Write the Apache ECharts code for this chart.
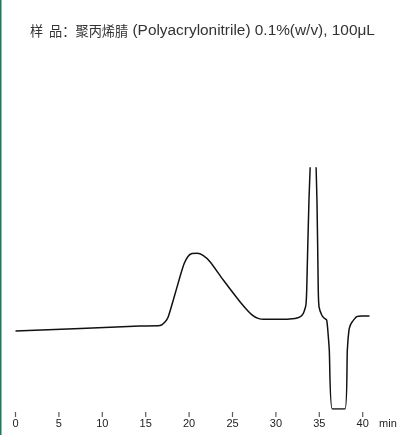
<!DOCTYPE html>
<html>
<head>
<meta charset="utf-8">
<script src="https://cdn.jsdelivr.net/npm/echarts@6/dist/echarts.min.js"></script>
<style>
html,body{margin:0;padding:0;background:#fff;}
#chart{width:402px;height:435px;}
</style>
</head>
<body>
<div id="chart"></div>
<script>
// Retention time (min) and detector response (arbitrary units)
var times = [0, 14.34, 16.65, 17.22, 17.60, 18.18, 18.95, 19.41, 19.87, 20.33, 20.94, 21.60, 22.41, 23.94, 25.86, 26.78, 27.40, 27.94, 28.55, 30.47, 32.20, 32.78, 33.16, 33.41, 33.48, 33.55, 33.81, 34.33, 34.73, 34.88, 34.97, 35.28, 35.54, 35.85, 36.04, 36.15, 36.50, 37.96, 38.23, 38.42, 38.59, 38.80, 39.31, 39.92, 40.78];
var signal = [32.4, 34.4, 34.6, 36.1, 38.3, 45.2, 54.9, 60.2, 63.3, 64.5, 64.6, 63.7, 61.1, 53.5, 44.5, 40.7, 38.6, 37.6, 37.2, 37.2, 37.6, 38.2, 39.7, 42.3, 43.9, 49.4, 86.7, 128.2, 86.7, 49.4, 42.4, 39.0, 37.8, 36.9, 30.0, 24.5, 0, 0, 24.5, 32.8, 34.9, 36.2, 38.3, 38.6, 38.6];
var tickValues = [0, 5, 10, 15, 20, 25, 30, 35, 40];
var titleCjk = '样  品：聚丙烯腈';
var titleLatin = ' (Polyacrylonitrile) 0.1%(w/v), 100μL';
var unitText = 'min';

var pxPerMin = 8.68;
var axisMax = 45;
var pts = times.map(function (t, i) { return [t, signal[i]]; });
var tickPts = tickValues.map(function (v) { return [v, 0.5]; });
var chart = echarts.init(document.getElementById('chart'), null, {renderer: 'canvas'});
chart.setOption({
  animation: false,
  backgroundColor: '#fff',
  title: {
    text: '{c|' + titleCjk + '}{l|' + titleLatin + '}',
    left: 25,
    top: 18,
    textStyle: {
      fontWeight: 'normal',
      rich: {
        c: {fontSize: 13.2, fontWeight: 'normal', color: '#333', fontFamily: 'Noto Sans CJK SC, sans-serif'},
        l: {fontSize: 15.4, fontWeight: 'normal', color: '#333', fontFamily: 'Liberation Sans, sans-serif'}
      }
    }
  },
  graphic: [{
    type: 'rect', left: 0, top: 0, shape: {x: 0, y: 0, width: 1.5, height: 435},
    style: {fill: '#1f7a5a'}
  }],
  grid: [
    {left: 15.5, width: axisMax * pxPerMin, top: 168, height: 241, containLabel: false, outerBoundsMode: 'none'},
    {left: 15.5, width: axisMax * pxPerMin, top: 412, height: 5, containLabel: false, outerBoundsMode: 'none'}
  ],
  xAxis: [{
    type: 'value', min: 0, max: axisMax, interval: 5, gridIndex: 0,
    offset: 3,
    name: unitText, nameLocation: 'end', nameGap: -27,
    nameTextStyle: {fontSize: 11, color: '#222', align: 'left', verticalAlign: 'top', padding: [9, 0, 0, 0], fontFamily: 'Liberation Sans, sans-serif'},
    axisLine: {show: false},
    splitLine: {show: false},
    axisTick: {show: false},
    axisLabel: {customValues: tickValues, margin: 6, fontSize: 11, color: '#222', fontFamily: 'Liberation Sans, sans-serif'}
  }, {
    type: 'value', min: 0, max: axisMax, interval: 5, gridIndex: 1, show: false,
    splitLine: {show: false}
  }],
  yAxis: [
    {type: 'value', min: 0, max: 100, show: false, gridIndex: 0, splitLine: {show: false}},
    {type: 'value', min: 0, max: 1, show: false, gridIndex: 1, splitLine: {show: false}}
  ],
  series: [{
    type: 'line', data: pts, showSymbol: false, symbol: 'none', clip: true,
    xAxisIndex: 0, yAxisIndex: 0,
    smooth: 0.2,
    lineStyle: {color: '#111', width: 1.5}
  }, {
    type: 'scatter', data: tickPts, xAxisIndex: 1, yAxisIndex: 1,
    symbol: 'rect', symbolSize: [1.2, 5], clip: false, silent: true,
    itemStyle: {color: '#333'}
  }]
});
</script>
</body>
</html>
